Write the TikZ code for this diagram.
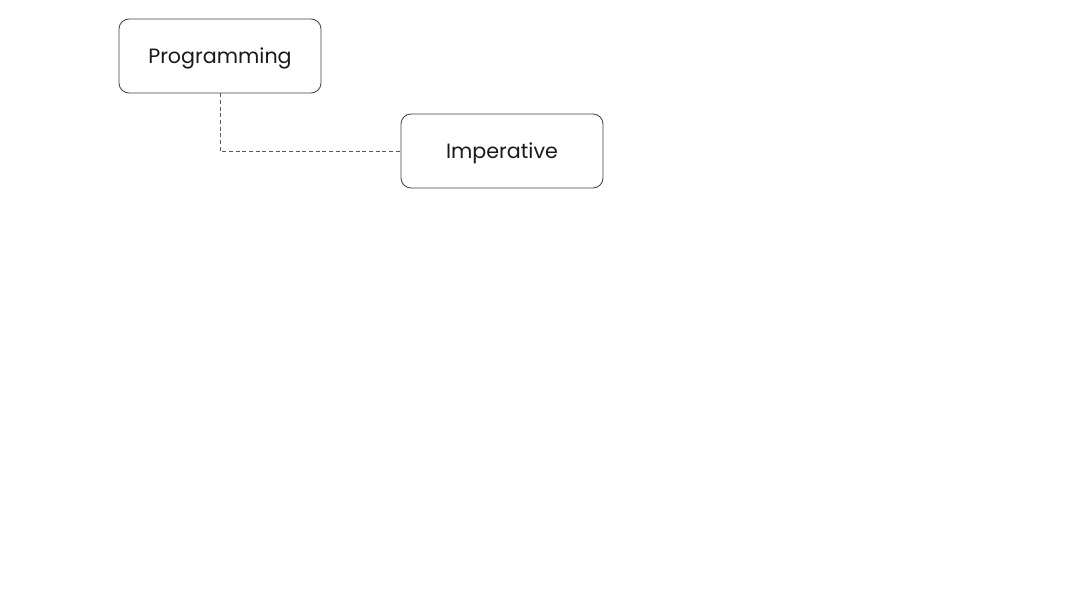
\documentclass[tikz,border=0pt]{standalone}
\usepackage{fontspec}
\setmainfont{Poppins}
\begin{document}
\begin{tikzpicture}[x=0.75pt,y=-0.75pt,
  box/.style={draw=black!75,line width=0.6pt,rounded corners=7.5pt,minimum width=151.5pt,minimum height=55.5pt,inner sep=0pt,font=\fontsize{15.5pt}{18pt}\selectfont,text=black!90},
  link/.style={draw=black!65,line width=0.6pt,dash pattern=on 3pt off 2pt}]
\useasboundingbox (0,0) rectangle (1065,596);
\node[box] (prog) at (220,56) {};
\node[anchor=center,font=\fontsize{15.5pt}{18pt}\selectfont,text=black!90,inner sep=0pt] (progt) at (220,58) {Programming};
\node[box] (imp) at (502,151) {};
\node[anchor=center,font=\fontsize{15.5pt}{18pt}\selectfont,text=black!90,inner sep=0pt] (impt) at (502,153) {Imperative};
\draw[link] (prog.south) |- (imp.west);
\end{tikzpicture}
\end{document}
